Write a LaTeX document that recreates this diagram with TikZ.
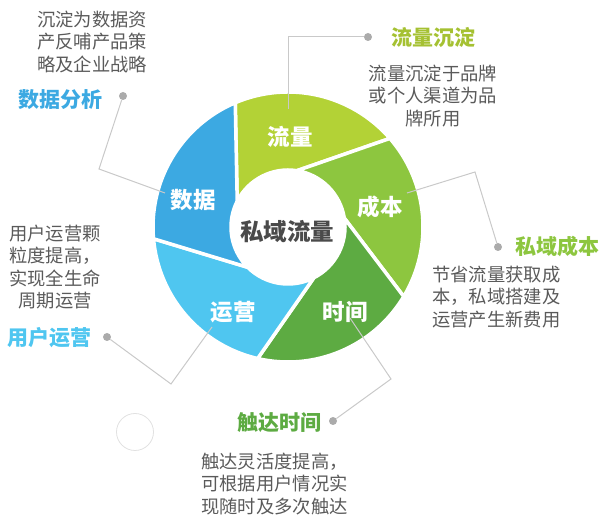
\documentclass[tikz,border=0pt]{standalone}
\usepackage{fontspec}
\setmainfont{Noto Sans CJK SC}
\usepackage{tikz}
\usetikzlibrary{calc}
\definecolor{FlowLime}{HTML}{B3D236}
\definecolor{CostGreen}{HTML}{8DC63F}
\definecolor{TimeGreen}{HTML}{5DAB42}
\definecolor{OpsSky}{HTML}{4FC6F0}
\definecolor{DataBlue}{HTML}{3CA9E2}
\definecolor{NoteGray}{HTML}{5A5A5A}
\definecolor{LeadGray}{HTML}{C9C9C9}
\definecolor{HubGray}{HTML}{4A4A4A}
\tikzset{
  blade/.style={draw=white,line width=3.5pt,line join=round},
  bladelabel/.style={text=white,font=\fontsize{22.5}{25}\selectfont\bfseries,inner sep=0pt},
  calltitle/.style={font=\fontsize{21}{23}\selectfont\bfseries,inner sep=0pt},
  callnote/.style={text=NoteGray,font=\fontsize{18.3}{22.5}\selectfont,inner sep=0pt},
  leadline/.style={draw=LeadGray,line width=1pt},
  leaddot/.style={circle,fill=LeadGray!85!black,inner sep=0pt,minimum size=8pt}
}

\begin{document}
\begin{tikzpicture}[x=1pt,y=1pt]
  \useasboundingbox (0,0) rectangle (600,524);

  % ring of blades
  \begin{scope}[shift={(288,297)}]
    \foreach \a/\c in {153/FlowLime,81/CostGreen,9/TimeGreen,-63/OpsSky,-135/DataBlue}
      \path[blade,fill=\c] (\a:57) -- (\a-40:135)
        arc[start angle=\a-40,end angle=\a-112,radius=135] -- (\a-72:57)
        arc[start angle=\a-72,end angle=\a,radius=57] -- cycle;
  \end{scope}

  \node[bladelabel] (flow) at (290,387) {流量};
  \node[bladelabel] (cost) at (380,317) {成本};
  \node[bladelabel] (time) at (345,212) {时间};
  \node[bladelabel] (ops) at (233,212) {运营};
  \node[bladelabel] (data) at (193,324) {数据};
  \node[text=HubGray,font=\fontsize{23.5}{25}\selectfont\bfseries,inner sep=0pt] (hub) at (287,292) {私域流量};

  % top right
  \coordinate (flow-end) at (288,415);
  \coordinate (flow-bend) at (288,487);
  \node[leaddot] (flow-dot) at (368,487) {};
  \draw[leadline] (flow-end) -- (flow-bend) -- (flow-dot);
  \node[calltitle,text=FlowLime!92!black] (flow-title) at (433,487) {流量沉淀};
  \node[callnote,align=center] (flow-note) at (433,428) {流量沉淀于品牌\\或个人渠道为品\\牌所用};

  % right
  \coordinate (cost-end) at (407,331);
  \coordinate (cost-bend) at (475,352);
  \node[leaddot] (cost-dot) at (498,277) {};
  \draw[leadline] (cost-end) -- (cost-bend) -- (cost-dot);
  \node[calltitle,text=CostGreen] (cost-title) at (557,277) {私域成本};
  \node[callnote,align=left,anchor=west] (cost-note) at (432,227) {节省流量获取成\\本，私域搭建及\\运营产生新费用};

  % left top
  \coordinate (data-end) at (165,331);
  \coordinate (data-bend) at (99,355);
  \node[leaddot] (data-dot) at (123,428) {};
  \draw[leadline] (data-end) -- (data-bend) -- (data-dot);
  \node[calltitle,text=DataBlue] (data-title) at (61,424) {数据分析};
  \node[callnote,align=center] (data-note) at (92,482) {沉淀为数据资\\产反哺产品策\\略及企业战略};

  % left bottom
  \coordinate (ops-end) at (212,197);
  \coordinate (ops-bend) at (171,140);
  \node[leaddot] (ops-dot) at (107,187) {};
  \draw[leadline] (ops-end) -- (ops-bend) -- (ops-dot);
  \node[calltitle,text=OpsSky] (ops-title) at (50,186) {用户运营};
  \node[callnote,align=center] (ops-note) at (55,257) {用户运营颗\\粒度提高，\\实现全生命\\周期运营};

  % bottom
  \coordinate (time-end) at (350,206);
  \coordinate (time-bend) at (391,145);
  \node[leaddot] (time-dot) at (333,103) {};
  \draw[leadline] (time-end) -- (time-bend) -- (time-dot);
  \node[calltitle,text=TimeGreen] (time-title) at (279,101) {触达时间};
  \node[callnote,align=left,anchor=west] (time-note) at (201,40) {触达灵活度提高，\\可根据用户情况实\\现随时及多次触达};

  \node[circle,draw=LeadGray!55,line width=0.8pt,minimum size=37pt] (deco) at (135,92) {};
\end{tikzpicture}
\end{document}
